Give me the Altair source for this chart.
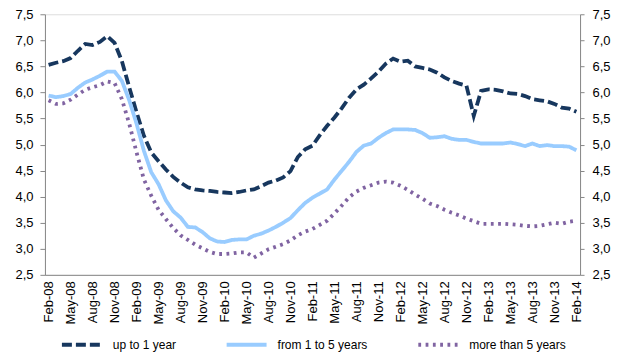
import altair as alt
import pandas as pd

# ---- categories (monthly, Feb-08 .. Feb-14) ----
month_names = ["Jan", "Feb", "Mar", "Apr", "May", "Jun",
               "Jul", "Aug", "Sep", "Oct", "Nov", "Dec"]
periods = []
for k in range(73):
    m = (1 + k) % 12
    y = 8 + (1 + k) // 12
    periods.append(f"{month_names[m]}-{y:02d}")
tick_labels = periods[::3]

series_names = ["up to 1 year", "from 1 to 5 years", "more than 5 years"]

up_to_1 = [6.53, 6.57, 6.60, 6.66, 6.80, 6.93, 6.91, 6.97, 7.08, 6.95,
           6.60, 6.10, 5.62, 5.17, 4.85, 4.68, 4.52, 4.38, 4.27, 4.18,
           4.14, 4.12, 4.11, 4.09, 4.08, 4.07, 4.09, 4.12, 4.14, 4.20,
           4.27, 4.31, 4.37, 4.49, 4.76, 4.91, 4.98, 5.18, 5.36, 5.52,
           5.70, 5.90, 6.06, 6.15, 6.27, 6.40, 6.55, 6.65, 6.59, 6.61,
           6.50, 6.47, 6.44, 6.38, 6.29, 6.22, 6.17, 6.13, 5.55, 6.03,
           6.06, 6.05, 6.02, 5.98, 5.97, 5.93, 5.87, 5.85, 5.83, 5.78,
           5.71, 5.69, 5.63]

from_1_to_5 = [5.94, 5.91, 5.93, 5.97, 6.09, 6.19, 6.25, 6.32, 6.40, 6.40,
               6.22, 5.85, 5.40, 4.88, 4.47, 4.24, 3.93, 3.72, 3.60, 3.42,
               3.41, 3.32, 3.20, 3.14, 3.13, 3.17, 3.18, 3.18, 3.25, 3.29,
               3.35, 3.42, 3.50, 3.59, 3.74, 3.88, 3.98, 4.06, 4.14, 4.33,
               4.50, 4.67, 4.86, 4.98, 5.02, 5.13, 5.22, 5.29, 5.29, 5.29,
               5.28, 5.22, 5.13, 5.14, 5.16, 5.11, 5.09, 5.09, 5.05, 5.02,
               5.02, 5.02, 5.02, 5.04, 5.01, 4.97, 5.02, 4.97, 4.99, 4.97,
               4.97, 4.96, 4.89]

more_than_5 = [5.85, 5.78, 5.79, 5.86, 5.96, 6.05, 6.10, 6.14, 6.21, 6.18,
               5.87, 5.40, 4.85, 4.33, 4.02, 3.75, 3.57, 3.40, 3.26, 3.17,
               3.08, 3.01, 2.94, 2.90, 2.90, 2.91, 2.93, 2.93, 2.83, 2.91,
               2.99, 3.04, 3.09, 3.16, 3.26, 3.33, 3.38, 3.46, 3.54, 3.68,
               3.83, 3.99, 4.10, 4.17, 4.22, 4.27, 4.29, 4.27, 4.21, 4.13,
               4.04, 3.96, 3.87, 3.82, 3.75, 3.69, 3.64, 3.58, 3.53, 3.48,
               3.48, 3.48, 3.48, 3.47, 3.46, 3.44, 3.43, 3.44, 3.47, 3.50,
               3.48, 3.52, 3.54]

y_ticks = [2.5, 3.0, 3.5, 4.0, 4.5, 5.0, 5.5, 6.0, 6.5, 7.0, 7.5]

colors = ["#17375E", "#99CCFF", "#8064A2"]
dashes = [[10, 4], [1, 0], [2.8, 4.5]]

rows = []
for name, vals in zip(series_names, [up_to_1, from_1_to_5, more_than_5]):
    for p, v in zip(periods, vals):
        rows.append({"period": p, "series": name, "value": v})
df = pd.DataFrame(rows)

FONT = "Liberation Sans"
label_expr = "replace(format(datum.value, '.1f'), '.', ',')"

x_enc = alt.X(
    "period:N",
    sort=periods,
    scale=alt.Scale(type="point", padding=0.5),
    axis=alt.Axis(values=tick_labels, labelAngle=270, ticks=False, title=None,
                  domainColor="#888888", labelFontSize=13, labelColor="#000000",
                  labelFont=FONT, labelPadding=6, grid=False),
)
y_scale = alt.Scale(domain=[2.5, 7.5], nice=False, zero=False)

legend = alt.Legend(
    title=None, orient="none", legendX=15, legendY=309, direction="horizontal",
    symbolType="stroke", symbolSize=1600, symbolStrokeWidth=4,
    labelFontSize=12, labelFont=FONT, labelColor="#000000", labelOffset=9,
    columnPadding=42, padding=0,
)

lines = alt.Chart(df).mark_line(strokeWidth=3.8).encode(
    x=x_enc,
    y=alt.Y("value:Q", scale=y_scale,
            axis=alt.Axis(values=y_ticks, labelExpr=label_expr, title=None, grid=False,
                          orient="left", tickSize=5, labelPadding=7,
                          domainColor="#888888", tickColor="#888888",
                          labelFontSize=13, labelFont=FONT, labelColor="#000000",
                          minExtent=36.7, maxExtent=36.7)),
    color=alt.Color("series:N", sort=series_names,
                    scale=alt.Scale(domain=series_names, range=colors), legend=legend),
    strokeDash=alt.StrokeDash("series:N", sort=series_names,
                              scale=alt.Scale(domain=series_names, range=dashes),
                              legend=legend),
)

right = alt.Chart(df).mark_line(opacity=0).encode(
    x=x_enc,
    y=alt.Y("value:Q", scale=y_scale,
            axis=alt.Axis(values=y_ticks, labelExpr=label_expr, title=None, grid=False,
                          orient="right", tickSize=4, labelPadding=8,
                          domainColor="#888888", tickColor="#888888",
                          labelFontSize=13, labelFont=FONT, labelColor="#000000")),
    detail="series:N",
)

chart = alt.layer(lines, right).resolve_axis(y="independent").properties(
    width=536, height=261,
    padding={"left": 0, "top": 0, "right": 0, "bottom": 0},
).configure_view(stroke=None).configure(background="white")

chart.save("out.html", embed_options={"renderer": "svg", "actions": False})
